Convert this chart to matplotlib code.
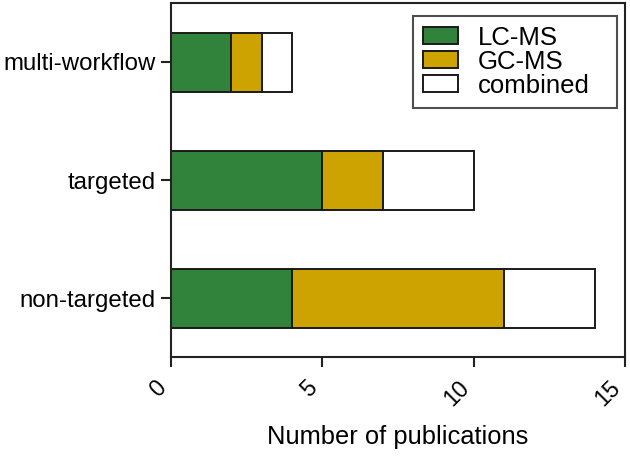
import matplotlib
matplotlib.use("Agg")
import matplotlib.pyplot as plt
import numpy as np

plt.rcParams['font.family'] = ['Liberation Sans', 'DejaVu Sans']

categories = ["non-targeted", "targeted", "multi-workflow"]
series_names = ["LC-MS", "GC-MS", "combined"]
lc_ms = [4, 5, 2]
gc_ms = [7, 2, 1]
combined = [3, 3, 1]
colors = ["#31833c", "#cca300", "#ffffff"]
x_ticks = [0, 5, 10, 15]

fig = plt.figure(figsize=(6.3, 4.66), dpi=100)
ax = fig.add_axes([170.7/630, 1 - 357/466, (625 - 170.7)/630, (357 - 3)/466])

y = np.arange(len(categories))
left = np.zeros(len(categories))
for name, vals, c in zip(series_names, [lc_ms, gc_ms, combined], colors):
    ax.barh(y, vals, left=left, height=0.5, color=c, edgecolor="#1a1a1a",
            linewidth=1.4, label=name)
    left += np.array(vals)

ax.set_xlim(0, 15)
ax.set_ylim(-0.5, 2.5)
ax.set_yticks(y)
ax.set_yticklabels(categories, fontsize=17.3)
ax.set_xticks(x_ticks)
ax.set_xticklabels([str(t) for t in x_ticks], fontsize=16.5, rotation=45,
                   ha="right", va="top")
ax.tick_params(axis="both", direction="out", length=7, width=1.5, color="#222222")
ax.tick_params(axis="x", pad=7)
ax.tick_params(axis="y", pad=4)
for s in ax.spines.values():
    s.set_linewidth(1.5)
    s.set_color("#222222")
ax.set_xlabel("Number of publications", fontsize=18.4, labelpad=10)

W = 454.3
H = 354
x0 = (413 - 170.7) / W
x1 = (617 - 170.7) / W
ytop = (357 - 16) / H
leg = ax.legend(loc="upper left", bbox_to_anchor=(x0, ytop - 0.3, x1 - x0, 0.3),
                mode="expand", borderaxespad=0, fontsize=18.5, frameon=True,
                fancybox=False, edgecolor="#222222", handlelength=1.36,
                handleheight=0.62, handletextpad=0.78, labelspacing=0.0,
                borderpad=0.38)
leg.get_frame().set_linewidth(1.5)
for p in leg.get_patches():
    p.set_linewidth(1.4)

fig.savefig("out.png", dpi=100)
